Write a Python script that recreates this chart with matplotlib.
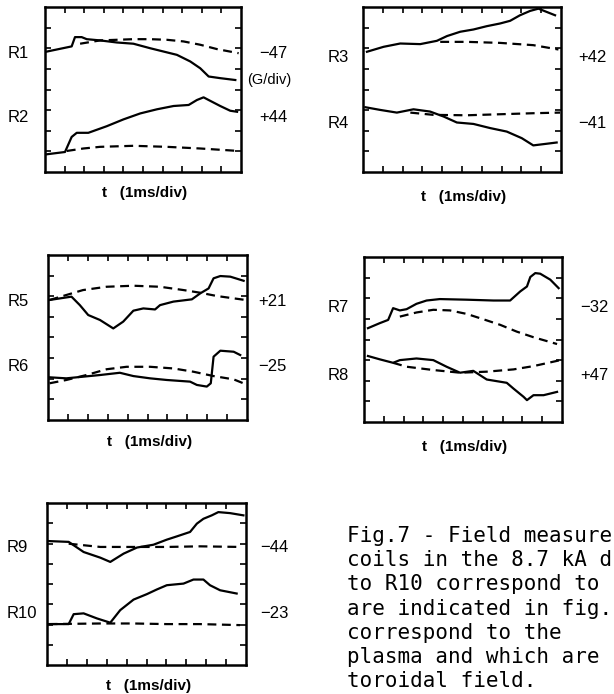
import matplotlib
matplotlib.use("Agg")
import matplotlib.pyplot as plt

W, H = 614, 694

# traces, x in time divisions (0-10), y in field divisions (0-8)
# solid = measured, dashed = reference
r1_t = [0.1, 1.36, 1.53, 1.87, 2.13, 2.81, 3.66, 4.51, 5.37, 6.22, 6.73, 7.41, 7.92, 8.35, 8.94, 9.71]
r1_b = [5.84, 6.09, 6.54, 6.54, 6.44, 6.38, 6.28, 6.22, 6.0, 5.8, 5.68, 5.36, 5.03, 4.63, 4.55, 4.46]
r1d_t = [1.79, 2.81, 3.66, 4.51, 5.37, 6.22, 7.07, 7.92, 8.77, 9.88]
r1d_b = [6.22, 6.38, 6.41, 6.44, 6.44, 6.41, 6.33, 6.17, 5.96, 5.76]
r2_t = [0.1, 1.02, 1.36, 1.62, 2.21, 3.15, 4.0, 4.86, 5.71, 6.56, 7.33, 7.75, 8.09, 8.35, 8.94, 9.45, 9.8]
r2_b = [0.86, 0.97, 1.7, 1.9, 1.9, 2.22, 2.55, 2.84, 3.04, 3.2, 3.25, 3.49, 3.62, 3.49, 3.2, 2.97, 2.92]
r2d_t = [1.11, 1.96, 2.81, 4.51, 6.22, 7.92, 9.88]
r2d_b = [1.02, 1.14, 1.22, 1.27, 1.22, 1.14, 1.02]

r3_t = [0.2, 1.04, 1.88, 2.89, 3.73, 4.24, 4.91, 5.58, 6.25, 6.92, 7.43, 7.93, 8.44, 8.86, 9.28, 9.7]
r3_b = [5.83, 6.07, 6.23, 6.2, 6.36, 6.59, 6.8, 6.91, 7.07, 7.2, 7.33, 7.6, 7.81, 7.92, 7.76, 7.6]
r3d_t = [3.9, 5.24, 6.92, 8.6, 9.87]
r3d_b = [6.31, 6.31, 6.26, 6.15, 5.94]
r4_t = [0.12, 0.87, 1.71, 2.55, 3.39, 4.07, 4.74, 5.58, 6.42, 7.26, 8.02, 8.6, 9.28, 9.78]
r4_b = [3.14, 3.01, 2.88, 3.04, 2.93, 2.69, 2.4, 2.33, 2.13, 1.96, 1.64, 1.29, 1.37, 1.43]
r4d_t = [2.39, 3.56, 5.24, 6.92, 8.6, 9.95]
r4d_b = [2.88, 2.77, 2.75, 2.8, 2.85, 2.88]

r5_t = [0.08, 1.18, 1.6, 2.02, 2.61, 3.28, 3.78, 4.29, 4.79, 5.38, 5.63, 6.3, 7.23, 7.65, 8.07, 8.32, 8.66, 9.16, 9.83]
r5_b = [5.82, 5.98, 5.57, 5.09, 4.85, 4.44, 4.77, 5.3, 5.41, 5.36, 5.57, 5.74, 5.85, 6.14, 6.38, 6.87, 6.98, 6.95, 6.75]
r5d_t = [0.08, 0.92, 1.76, 2.94, 4.29, 5.63, 6.81, 7.65, 8.49, 9.92]
r5d_b = [5.82, 6.06, 6.3, 6.46, 6.51, 6.46, 6.3, 6.17, 6.01, 5.82]
r6_t = [0.08, 0.92, 1.76, 2.61, 3.61, 4.29, 5.13, 5.97, 7.14, 7.48, 7.98, 8.18, 8.32, 8.66, 9.33, 9.66]
r6_b = [2.07, 2.02, 2.1, 2.18, 2.29, 2.13, 2.02, 1.94, 1.86, 1.7, 1.62, 1.78, 3.07, 3.36, 3.31, 3.15]
r6d_t = [0.08, 0.92, 1.93, 2.94, 3.95, 5.13, 6.3, 7.31, 8.32, 9.33, 9.92]
r6d_b = [1.78, 1.94, 2.18, 2.46, 2.58, 2.58, 2.5, 2.34, 2.13, 1.97, 1.74]

r7_t = [0.2, 0.79, 1.22, 1.47, 1.81, 2.15, 2.65, 3.16, 3.83, 5.19, 6.54, 7.38, 7.89, 8.23, 8.4, 8.65, 8.9, 9.41, 9.83]
r7_b = [4.55, 4.79, 4.95, 5.52, 5.41, 5.47, 5.73, 5.89, 5.96, 5.93, 5.89, 5.89, 6.33, 6.57, 7.03, 7.22, 7.19, 6.9, 6.49]
r7d_t = [1.81, 2.65, 3.5, 4.34, 5.19, 6.03, 6.88, 7.72, 8.56, 9.75]
r7d_b = [5.11, 5.31, 5.44, 5.41, 5.24, 4.98, 4.71, 4.38, 4.11, 3.78]
r8_t = [0.2, 0.79, 1.47, 1.81, 2.65, 3.5, 4.17, 4.85, 5.52, 6.2, 7.21, 7.55, 8.06, 8.23, 8.56, 9.07, 9.75]
r8_b = [3.2, 3.04, 2.87, 3.0, 3.08, 3.0, 2.68, 2.39, 2.48, 2.06, 1.9, 1.62, 1.22, 1.06, 1.3, 1.3, 1.46]
r8d_t = [1.47, 2.15, 3.5, 4.85, 6.2, 7.55, 8.56, 9.92]
r8d_b = [2.87, 2.68, 2.52, 2.39, 2.44, 2.55, 2.71, 3.0]

r9_t = [0.08, 1.09, 1.84, 2.68, 3.18, 3.85, 4.52, 5.35, 6.02, 6.52, 7.19, 7.53, 7.86, 8.28, 8.61, 9.2, 9.87]
r9_b = [6.12, 6.08, 5.58, 5.3, 5.09, 5.5, 5.8, 5.94, 6.19, 6.35, 6.57, 6.98, 7.22, 7.39, 7.55, 7.5, 7.39]
r9d_t = [1.09, 2.68, 4.35, 6.02, 7.69, 9.7]
r9d_b = [5.99, 5.83, 5.83, 5.83, 5.86, 5.83]
r10_t = [0.08, 1.09, 1.34, 1.84, 2.51, 3.18, 3.68, 4.35, 5.02, 5.52, 6.02, 6.86, 7.36, 7.86, 8.19, 8.7, 9.53]
r10_b = [2.02, 2.02, 2.51, 2.55, 2.3, 2.09, 2.71, 3.23, 3.5, 3.73, 3.94, 4.02, 4.22, 4.22, 3.94, 3.69, 3.53]
r10d_t = [0.08, 2.68, 4.35, 6.02, 7.69, 9.7]
r10d_b = [2.02, 2.05, 2.05, 2.02, 2.02, 1.97]

# gain labels (G/div) on the right
gains = ["\u221247", "+44", "+42", "\u221241", "+21", "\u221225", "\u221232", "+47", "\u221244", "\u221223"]
names = ["R1", "R2", "R3", "R4", "R5", "R6", "R7", "R8", "R9", "R10"]

caption = [
    "Fig.7 - Field measure",
    "coils in the 8.7 kA d",
    "to R10 correspond to",
    "are indicated in fig.",
    "correspond to the",
    "plasma and which are",
    "toroidal field.",
]

# panel boxes in pixels: left, top, right, bottom
boxes = [(45, 7, 241, 172), (363, 7, 561, 172), (48, 255, 247, 420),
         (364, 257, 562, 422), (47, 503, 246, 665)]
# label positions: left-x, right-x, y upper, y lower, xlabel y
lab = [(8, 259, 53, 118, 193), (328, 578, 57, 123, 197), (8, 258, 302, 367, 442),
       (328, 580, 308, 375, 447), (7, 260, 547, 613, 686)]

traces = [
    (r1_t, r1_b, r1d_t, r1d_b, r2_t, r2_b, r2d_t, r2d_b),
    (r3_t, r3_b, r3d_t, r3d_b, r4_t, r4_b, r4d_t, r4d_b),
    (r5_t, r5_b, r5d_t, r5d_b, r6_t, r6_b, r6d_t, r6d_b),
    (r7_t, r7_b, r7d_t, r7d_b, r8_t, r8_b, r8d_t, r8d_b),
    (r9_t, r9_b, r9d_t, r9d_b, r10_t, r10_b, r10d_t, r10d_b),
]

fig = plt.figure(figsize=(W / 100, H / 100), dpi=100)
fig.patch.set_facecolor("white")

def fx(x):
    return x / W

def fy(y):
    return 1 - y / H

sans = "Liberation Sans"

for i, (box, tr, lb) in enumerate(zip(boxes, traces, lab)):
    l, t, r, b = box
    ax = fig.add_axes([fx(l), fy(b), (r - l) / W, (b - t) / H])
    ta, ya, tad, yad, tb, yb, tbd, ybd = tr
    ax.plot(ta, ya, color="black", lw=1.6)
    ax.plot(tad, yad, color="black", lw=1.6, dashes=(4, 2.5))
    ax.plot(tb, yb, color="black", lw=1.6)
    ax.plot(tbd, ybd, color="black", lw=1.6, dashes=(4, 2.5))
    ax.set_xlim(0, 10)
    ax.set_ylim(0, 8)
    ax.set_xticks(range(1, 10))
    ax.set_yticks(range(1, 8))
    ax.tick_params(direction="in", length=4, width=1.2, top=True, right=True,
                   labelbottom=False, labelleft=False)
    for s in ax.spines.values():
        s.set_linewidth(1.8)

    lx, rx, y1, y2, xly = lb
    fig.text(fx(lx), fy(y1), names[2 * i], fontsize=12, family=sans, va="center")
    fig.text(fx(lx), fy(y2), names[2 * i + 1], fontsize=12, family=sans, va="center")
    fig.text(fx(rx), fy(y1), gains[2 * i], fontsize=12, family=sans, va="center")
    fig.text(fx(rx), fy(y2), gains[2 * i + 1], fontsize=12, family=sans, va="center")
    fig.text(fx((l + r) / 2 + 2), fy(xly), "t   (1ms/div)", fontsize=11, family=sans,
             weight="bold", ha="center", va="center")

fig.text(fx(247), fy(80), "(G/div)", fontsize=10.5, family=sans, va="center")

for k, line in enumerate(caption):
    fig.text(fx(347), fy(542 + 24.2 * k), line, fontsize=15, family="DejaVu Sans Mono",
             va="baseline")

fig.savefig("out.png", dpi=100)
